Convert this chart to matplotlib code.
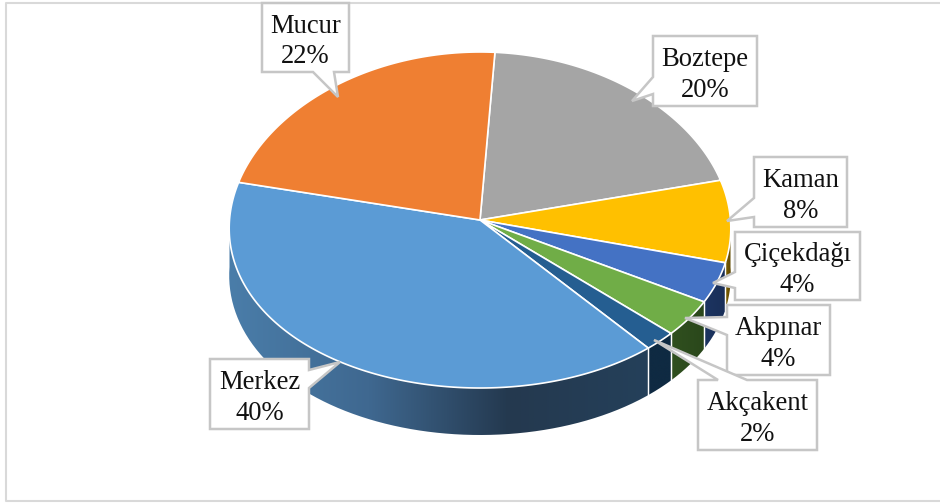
# Ilce dagilimi, 3 boyutlu gorunumlu pasta grafik

import numpy as np
import matplotlib.pyplot as plt
from matplotlib.colors import LinearSegmentedColormap
from matplotlib.patches import PathPatch, Polygon
from matplotlib.path import Path

plt.rcParams['font.family'] = ['Liberation Serif', 'DejaVu Serif']

# veriler
names = ['Boztepe', 'Kaman', 'Çiçekdağı', 'Akpınar', 'Akçakent', 'Merkez', 'Mucur']
values = [20.2, 7.9, 4.0, 3.7, 2.0, 39.8, 22.4]
colors = ['#a5a5a5', '#ffc000', '#4472c4', '#70ad47', '#255e91', '#5b9bd5', '#ef7f32']
side_colors = [
    ['#a5a5a5', '#a5a5a5'],
    ['#7f6000', '#5f4800'],
    ['#1c3461', '#1a2f58'],
    ['#30501f', '#2a471b'],
    ['#0f2a42', '#0f2a42'],
    ['#4a7da9', '#3f6890', '#24394f', '#24405a'],
    ['#ed7d31', '#ed7d31'],
]

# etiket kutulari: sol, ust, sag, alt, ok ucu, kutu uzerindeki ok tabani
boxes = {
    'Boztepe': (653, 36, 757, 106, (632, 101), 'left', 77, 94),
    'Kaman': (754, 157, 847, 227, (727, 221), 'left', 198, 217),
    'Çiçekdağı': (735, 232, 860, 300, (713, 283), 'left', 272, 288),
    'Akpınar': (727, 305, 830, 375, (685, 318), 'left', 317, 335),
    'Akçakent': (698, 380, 817, 450, (654, 340), 'top', 718, 747),
    'Merkez': (210, 359, 309, 429, (340, 362), 'right', 370, 388),
    'Mucur': (262, 3, 349, 72, (338, 97), 'bottom', 313, 334),
}

W, H = 940, 503
cx, cy, rx, ry, depth = 480, 220, 250.5, 168, 47
start = 3.6  # ilk dilimin tepeden saat yonunde acisi
k = 0.05  # arka taraf daralmasi


def project(a):
    # aci (derece) -> piksel
    t = np.radians(a)
    u = np.sin(t)
    v = np.cos(t)
    return cx + rx * u * (1 - k * v), cy - ry * v


fig = plt.figure(figsize=(W / 100, H / 100), dpi=100)
ax = fig.add_axes([0, 0, 1, 1])
ax.axis('off')

angles = np.concatenate([[0], np.cumsum(values)]) * 3.6 + start

# yan yuzeyler
for i in range(len(values)):
    a0 = max(angles[i], 90)
    a1 = min(angles[i + 1], 270)
    if a1 <= a0:
        continue
    x, y = project(np.linspace(a0, a1, 200))
    px = np.concatenate([x, x[::-1]])
    py = np.concatenate([y, y[::-1] + depth])
    patch = PathPatch(Path(np.column_stack([px, py])), fc='none', ec='none')
    ax.add_patch(patch)
    cmap = LinearSegmentedColormap.from_list('side', side_colors[i])
    grad = np.linspace(0, 1, 256).reshape(1, -1)
    im = ax.imshow(grad, cmap=cmap, extent=[px.min(), px.max(), py.max(), py.min()],
                   aspect='auto', zorder=1, vmin=0, vmax=1)
    im.set_clip_path(patch)
    # dilim arasi ince cizgi
    for a in (angles[i], angles[i + 1]):
        if 90 < a < 270:
            ex, ey = project(a)
            ax.plot([ex, ex], [ey, ey + depth], color='white', lw=0.9, zorder=2)
ax.set_xlim(0, W)
ax.set_ylim(H, 0)

# ust yuzey
for i in range(len(values)):
    x, y = project(np.linspace(angles[i], angles[i + 1], 200))
    ax.fill(np.concatenate([[cx], x]), np.concatenate([[cy], y]), fc=colors[i],
            ec='white', lw=1.2, zorder=3)

# cerceve, sag kenar gorunmuyor
ax.plot([W, 5.5, 5.5, W], [2.7, 2.7, 500.5, 500.5], color='#d9d9d9', lw=1.5, clip_on=False)

# etiketler
for i, name in enumerate(names):
    l, t, r, b, tip, side, p0, p1 = boxes[name]
    if side == 'left':
        pts = [(l, t), (r, t), (r, b), (l, b), (l, p1), tip, (l, p0)]
    elif side == 'right':
        pts = [(l, t), (r, t), (r, p0), tip, (r, p1), (r, b), (l, b)]
    elif side == 'top':
        pts = [(l, t), (p0, t), tip, (p1, t), (r, t), (r, b), (l, b)]
    else:
        pts = [(l, t), (r, t), (r, b), (p1, b), tip, (p0, b), (l, b)]
    ax.add_patch(Polygon(pts, closed=True, fc='white', ec='#c6c6c6', lw=1.8, zorder=5))
    ax.text((l + r) / 2, (t + b) / 2 + 4, '%s\n%.0f%%' % (name, values[i]), ha='center', va='center',
            fontsize=19.2, color='#111111', linespacing=1.31, zorder=6)

plt.savefig('out.png', dpi=100)
